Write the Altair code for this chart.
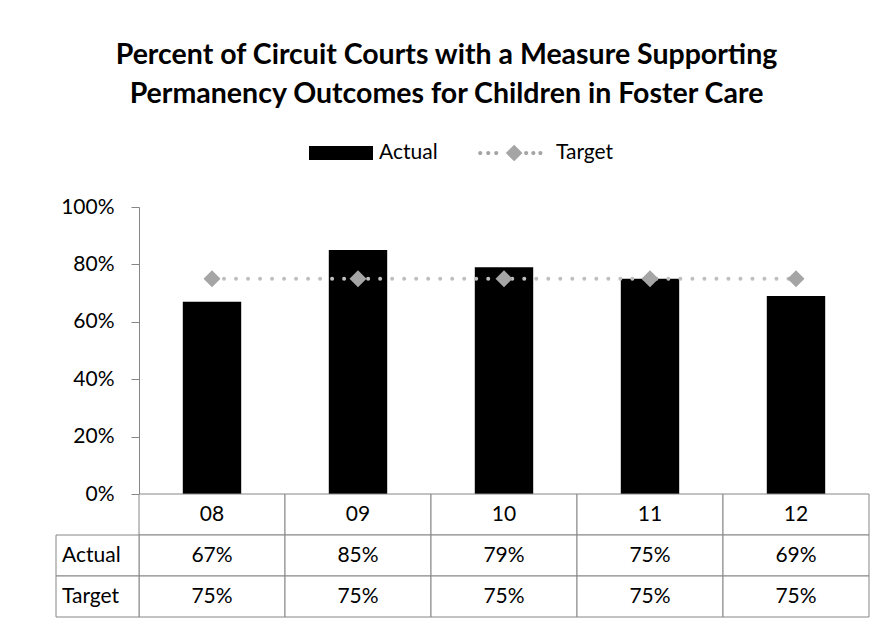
import altair as alt
import pandas as pd

# ---- data ----
years = ["08", "09", "10", "11", "12"]
actual = [0.67, 0.85, 0.79, 0.75, 0.69]
target = [0.75, 0.75, 0.75, 0.75, 0.75]
series = ["Actual", "Target"]
y_ticks = [0, 0.2, 0.4, 0.6, 0.8, 1.0]
title_lines = [
    "Percent of Circuit Courts with a Measure Supporting",
    "Permanency Outcomes for Children in Foster Care",
]
row_order = ["header", "Actual", "Target"]

FONT = "Lato"
GRAY = "#868686"
FS = 21

df = pd.DataFrame({"year": years, "actual": actual, "target": target})

# ---- legend symbols (custom unit paths, 1 unit = 32px) ----
RECT_PATH = "M-1,-0.22H1V0.22H-1Z"


def dot(cx, r=0.065):
    return f"M{cx - r:.3f},0a{r},{r} 0 1,0 {2 * r:.3f},0a{r},{r} 0 1,0 {-2 * r:.3f},0Z"


DC = -0.12  # diamond centre
TARGET_PATH = (
    f"M{DC},-0.26L{DC + 0.26},0L{DC},0.26L{DC - 0.26},0Z"
    + "".join(dot(DC + c) for c in [-1.06, -0.81, -0.56, 0.375, 0.6, 0.82])
)

# ---- top chart ----
x_scale = alt.Scale(domain=years, paddingInner=0.6, paddingOuter=0.3)
x_enc = alt.X("year:N", scale=x_scale, axis=None)
y_scale = alt.Scale(domain=[0, 1])
y_axis = alt.Axis(
    values=y_ticks, format=".0%", grid=False, domainColor=GRAY, tickColor=GRAY,
    tickSize=8, labelPadding=17, labelFontSize=FS, labelFont=FONT,
    labelColor="black", minExtent=83, maxExtent=83, title=None,
)

bars = alt.Chart(df).mark_bar(color="black").encode(
    x=x_enc, y=alt.Y("actual:Q", scale=y_scale, axis=y_axis)
)
line = alt.Chart(df).mark_line(
    color="#bfbfbf", strokeWidth=4, strokeDash=[0.01, 12], strokeCap="round"
).encode(x=x_enc, y=alt.Y("target:Q", scale=y_scale))
pts = alt.Chart(df).mark_point(
    shape="diamond", filled=True, size=289, color="#a5a5a5", opacity=1
).encode(x=x_enc, y=alt.Y("target:Q", scale=y_scale))

leg = alt.Legend(
    orient="none", legendX=170, legendY=-86, direction="horizontal", title=None,
    symbolSize=4096, symbolOpacity=1, symbolStrokeWidth=0, labelFontSize=FS,
    labelFont=FONT, labelColor="black", columnPadding=40, labelOffset=6,
)
leg_df = pd.DataFrame({"series": series})
legend_layer = alt.Chart(leg_df).mark_point(filled=True, opacity=0).encode(
    color=alt.Color("series:N", scale=alt.Scale(domain=series, range=["black", "#a5a5a5"]), legend=leg),
    shape=alt.Shape("series:N", scale=alt.Scale(domain=series, range=[RECT_PATH, TARGET_PATH]), legend=leg),
)

top = alt.layer(bars, line, pts, legend_layer).properties(width=730, height=287)

# ---- data table ----
cells = []
for i, yr in enumerate(years):
    cells.append({"row": "header", "year": yr, "txt": yr})
    cells.append({"row": "Actual", "year": yr, "txt": f"{round(actual[i] * 100)}%"})
    cells.append({"row": "Target", "year": yr, "txt": f"{round(target[i] * 100)}%"})
cells_df = pd.DataFrame(cells)

row_scale = alt.Scale(domain=row_order, paddingInner=0, paddingOuter=0)
col_scale = alt.Scale(domain=years, paddingInner=0, paddingOuter=0)
tx = alt.X("year:N", scale=col_scale, axis=None)
ty = alt.Y("row:N", scale=row_scale, axis=None)

cell_box = alt.Chart(cells_df).mark_rect(fill="white", stroke=GRAY, strokeWidth=1).encode(x=tx, y=ty)
cell_txt = alt.Chart(cells_df).mark_text(
    font=FONT, fontSize=FS, color="black", baseline="middle"
).encode(x=tx, y=ty, text="txt:N")

lab_df = pd.DataFrame({"row": series})
lab_box = alt.Chart(lab_df).mark_rect(fill="white", stroke=GRAY, strokeWidth=1).encode(
    y=ty, x=alt.value(-83), x2=alt.value(0)
)
lab_txt = alt.Chart(lab_df).mark_text(
    font=FONT, fontSize=FS, color="black", align="left", baseline="middle"
).encode(y=ty, x=alt.value(-77), text="row:N")

bottom = alt.layer(cell_box, cell_txt, lab_box, lab_txt).properties(width=730, height=123)

chart = alt.vconcat(top, bottom, spacing=0, bounds="flush").properties(
    title=alt.TitleParams(
        text=title_lines, fontSize=28.5, font=FONT, fontWeight="bold", anchor="middle",
        lineHeight=39, dx=-16, offset=13, color="black",
    ),
    padding={"left": 47, "top": 32, "right": 5, "bottom": 5},
).configure_view(stroke="transparent")

chart.save("out.html", embed_options={"renderer": "svg", "actions": False})
